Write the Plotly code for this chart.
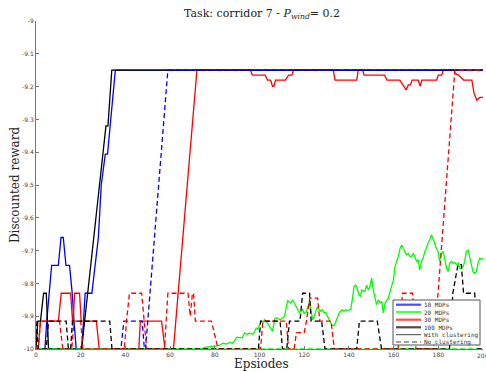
import plotly.graph_objects as go

# ---------------- data (episode, discounted reward) ----------------
b_sol_x = [0, 4, 4.8, 7, 10, 11.2, 12.2, 13.4, 15, 16.2, 17, 18, 20.5, 22, 25, 27.9, 29.2, 31, 32, 35.5, 200]
b_sol_y = [-10, -10, -9.915, -9.745, -9.745, -9.66, -9.66, -9.745, -9.745, -9.83, -9.915, -10, -10, -9.83, -9.83,
           -9.66, -9.5, -9.406, -9.406, -9.15, -9.15]

b_dash_x = [0, 38, 39.3, 47.5, 48.5, 49, 59, 200]
b_dash_y = [-10, -10, -9.915, -9.915, -10, -10, -9.15, -9.15]

g_sol_x = [0, 74, 76, 81.6, 83.7, 85.3, 86.6, 88, 89.9, 91.4, 92.3, 93.3, 94.5, 95.5, 97, 97.8, 98.5, 99.2, 100.7,
           101.5, 102.2, 103, 105.2, 105.9, 106.7, 107.5, 109, 109.7, 111.2, 111.9, 112.6, 113.4, 114.1, 114.8, 115.6,
           116.3, 117.1, 117.8, 118.6, 119.3, 120, 120.8, 121.5, 122.3, 123, 123.8, 124.5, 125.2, 125.9, 126.7, 127.4,
           128.1, 128.9, 129.6, 130.4, 131.1, 131.8, 132.6, 133.3, 134, 134.8, 135.5, 136.3, 137, 137.8, 138.5, 139.3,
           140, 140.8, 141.5, 142.3, 143, 143.7, 144.5, 145.2, 145.7, 147.2, 147.9, 148.7, 149.4, 150.2, 150.9, 151.7,
           152.4, 153.2, 153.9, 154.7, 155.4, 156.2, 156.9, 157.6, 158.4, 159.1, 159.9, 160.6, 161.3, 162.1, 162.9,
           163.6, 164.3, 165.1, 165.8, 166.5, 167.3, 168, 168.8, 169.5, 170.3, 171, 171.7, 172.5, 173.2, 174, 174.7,
           175.4, 176.2, 176.9, 177.6, 178.4, 179.1, 179.9, 180.6, 181.4, 182.2, 182.9, 183.7, 184.4, 185.1, 185.9,
           186.6, 187.4, 188.1, 188.9, 189.6, 190.4, 191.1, 191.8, 192.5, 193.3, 194, 194.8, 195.5, 196.3, 197, 197.8,
           198.5, 199.2, 200]
g_sol_y = [-10, -10, -9.994, -9.99, -9.982, -9.985, -9.98, -9.983, -9.964, -9.964, -9.966, -9.951, -9.955, -9.951,
           -9.955, -9.948, -9.936, -9.94, -9.915, -9.92, -9.91, -9.915, -9.941, -9.946, -9.909, -9.905, -9.91, -9.909,
           -9.9, -9.88, -9.852, -9.858, -9.86, -9.85, -9.86, -9.87, -9.878, -9.889, -9.886, -9.88, -9.892, -9.888,
           -9.875, -9.855, -9.88, -9.911, -9.9, -9.885, -9.872, -9.88, -9.885, -9.88, -9.89, -9.888, -9.9, -9.911,
           -9.92, -9.928, -9.929, -9.92, -9.905, -9.892, -9.885, -9.88, -9.885, -9.88, -9.882, -9.88, -9.88, -9.85,
           -9.809, -9.805, -9.815, -9.835, -9.84, -9.82, -9.825, -9.805, -9.82, -9.81, -9.784, -9.82, -9.85, -9.865,
           -9.85, -9.86, -9.855, -9.89, -9.86, -9.85, -9.845, -9.825, -9.81, -9.79, -9.749, -9.735, -9.718, -9.693,
           -9.683, -9.693, -9.703, -9.713, -9.708, -9.718, -9.718, -9.708, -9.718, -9.733, -9.728, -9.759, -9.733,
           -9.723, -9.703, -9.693, -9.677, -9.667, -9.652, -9.662, -9.677, -9.693, -9.703, -9.733, -9.708, -9.703,
           -9.728, -9.754, -9.764, -9.738, -9.733, -9.738, -9.736, -9.743, -9.738, -9.754, -9.754, -9.748, -9.733,
           -9.703, -9.698, -9.718, -9.743, -9.764, -9.769, -9.764, -9.738, -9.723, -9.726, -9.723]

g_dash_x = [0, 200]
g_dash_y = [-10, -10]

r_sol_x = [0, 1, 2, 10, 11.3, 15.5, 16.5, 17.3, 19.5, 20.2, 27, 28.3, 46, 46.7, 56.2, 57.7, 61.5, 72, 96, 96.8,
           102.5, 103.6, 105, 105.8, 106.4, 107.2, 111.6, 113, 114.5, 115.2, 133, 133.8, 143.5, 144.2, 146.2, 146.8,
           156, 157, 162.8, 164.4, 165.6, 166.6, 167.5, 168.3, 171, 171.9, 172.6, 179.3, 180, 181.5, 182.2, 187,
           187.6, 189, 191.3, 195, 196, 197.2, 198.6, 200]
r_sol_y = [-10, -10, -9.915, -9.915, -9.83, -9.83, -9.93, -9.83, -9.83, -9.915, -9.915, -10, -10, -9.915, -9.915,
           -10, -10, -9.15, -9.15, -9.165, -9.165, -9.18, -9.18, -9.199, -9.199, -9.18, -9.18, -9.165, -9.165, -9.15,
           -9.15, -9.18, -9.18, -9.15, -9.15, -9.165, -9.165, -9.18, -9.18, -9.195, -9.21, -9.195, -9.195, -9.18,
           -9.18, -9.199, -9.18, -9.18, -9.165, -9.165, -9.15, -9.15, -9.16, -9.165, -9.18, -9.18, -9.22, -9.241,
           -9.233, -9.233]

r_dash_x = [0, 1, 2, 10.5, 12, 16, 17, 20, 21, 39.5, 40.5, 41.8, 47.3, 48.5, 49.5, 57.5, 59, 68, 69, 70, 70.5,
            71.3, 78.5, 81.5, 100.5, 101.5, 112, 113, 115.5, 116.5, 120, 121, 122.5, 126, 127, 132, 133.5, 162,
            164, 168.5, 170, 178, 187.4, 200]
r_dash_y = [-10, -10, -9.915, -9.915, -10, -10, -9.915, -9.915, -10, -10, -9.915, -9.83, -9.83, -9.915, -10, -10,
            -9.83, -9.83, -9.9, -9.83, -9.83, -9.915, -9.915, -10, -10, -9.915, -9.915, -10, -10, -9.95, -9.95,
            -9.915, -9.845, -9.845, -9.915, -9.915, -10, -10, -9.83, -9.83, -10, -10, -9.15, -9.15]

k_sol_x = [0, 0.8, 2, 3.4, 4.6, 5.6, 20.4, 28.6, 31.3, 32.2, 33.9, 200]
k_sol_y = [-10, -9.915, -9.915, -9.83, -9.83, -10, -10, -9.5, -9.32, -9.32, -9.15, -9.15]

k_dash_x = [0, 1, 4.6, 5.6, 13.5, 14.5, 15.5, 16.3, 33, 34, 99.5, 100.5, 109.2, 110.3, 112.2, 113.4, 118.1, 119.3,
            122.4, 123.1, 127.8, 129.3, 143.5, 144.7, 152.7, 154.6, 185, 186.5, 188.8, 190.3, 191.3, 196.3, 197.5, 200]
k_dash_y = [-9.915, -10, -10, -9.915, -9.915, -10, -10, -9.915, -9.915, -10, -10, -9.915, -9.915, -10, -10, -9.915,
            -9.915, -9.83, -9.83, -9.915, -9.915, -10, -10, -9.915, -9.915, -10, -10, -9.83, -9.743, -9.743, -9.83,
            -9.83, -10, -10]

series_names = ["10 MDPs", "20 MDPs", "30 MDPs", "100 MDPs"]
series_colors = ["#0000ff", "#00ff00", "#ff0000", "#000000"]
style_names = ["With clustering", "No clustering"]
x_ticks = [0, 20, 40, 60, 80, 100, 120, 140, 160, 180, 200]
y_ticks = [-9, -9.1, -9.2, -9.3, -9.4, -9.5, -9.6, -9.7, -9.8, -9.9, -10]
y_tick_labels = ["-9", "-9.1", "-9.2", "-9.3", "-9.4", "-9.5", "-9.6", "-9.7", "-9.8", "-9.9", "-10"]

solid = [(b_sol_x, b_sol_y), (g_sol_x, g_sol_y), (r_sol_x, r_sol_y), (k_sol_x, k_sol_y)]
dashed = [(b_dash_x, b_dash_y), (g_dash_x, g_dash_y), (r_dash_x, r_dash_y), (k_dash_x, k_dash_y)]

# ---------------- figure ----------------
W, H = 486, 372
L, R, T, B = 36, 3, 21, 23
fig = go.Figure()

for (xs, ys), c, n in zip(solid, series_colors, series_names):
    fig.add_trace(go.Scatter(x=xs, y=ys, mode="lines", name=n + " " + style_names[0],
                             line=dict(color=c, width=1.3), showlegend=False))
for (xs, ys), c, n in zip(dashed, series_colors, series_names):
    fig.add_trace(go.Scatter(x=xs, y=ys, mode="lines", name=n + " " + style_names[1],
                             line=dict(color=c, width=1.3, dash="5px,3px"), showlegend=False))

# pixel -> paper helpers (for the hand-drawn legend)
def xp(px):
    return (px - L) / (W - L - R)

def yp(py):
    return (H - B - py) / (H - T - B)

shapes = []
annotations = []
# legend box
shapes.append(dict(type="rect", xref="paper", yref="paper", x0=xp(393), x1=xp(480), y0=yp(345), y1=yp(300),
                   line=dict(color="#555555", width=1), fillcolor="white", layer="above"))
rows_py = [304.7, 312, 319.7, 327.3, 334.7, 342]
legend_labels = series_names + style_names
for i, (py, lab) in enumerate(zip(rows_py, legend_labels)):
    if i < 4:
        ln = dict(color=series_colors[i], width=2.2)
        op = 0.7
    elif i == 4:
        ln = dict(color="#444444", width=1)
        op = 1
    else:
        ln = dict(color="#444444", width=1, dash="5px,3px")
        op = 1
    shapes.append(dict(type="line", xref="paper", yref="paper", x0=xp(396), x1=xp(421), y0=yp(py), y1=yp(py),
                       line=ln, opacity=op, layer="above"))
    annotations.append(dict(xref="paper", yref="paper", x=xp(422), y=yp(py), text=lab, showarrow=False,
                            xanchor="left", yanchor="middle",
                            font=dict(family="DejaVu Sans Mono", size=6, color="#333333")))

# last x tick label (sits on the right edge, partly cut like the reference)
annotations.append(dict(xref="x", yref="paper", x=x_ticks[-1], y=yp(355), showarrow=False,
                        text=str(x_ticks[-1]), xanchor="center", yanchor="middle",
                        font=dict(family="DejaVu Sans", size=6, color="#444444")))

# title and axis labels
annotations.append(dict(xref="paper", yref="paper", x=xp(262), y=yp(14), showarrow=False,
                        text="Task: corridor 7 - <i>P</i><sub><i>wind</i></sub>= 0.2",
                        xanchor="center", yanchor="middle",
                        font=dict(family="DejaVu Serif", size=11, color="#222222")))
annotations.append(dict(xref="paper", yref="paper", x=xp(261), y=yp(364), showarrow=False,
                        text="Epsiodes", xanchor="center", yanchor="middle",
                        font=dict(family="DejaVu Serif", size=12, color="#222222")))
annotations.append(dict(xref="paper", yref="paper", x=xp(15), y=yp(185), showarrow=False,
                        text="Discounted reward", textangle=-90, xanchor="center", yanchor="middle",
                        font=dict(family="DejaVu Serif", size=12, color="#222222")))

fig.update_layout(
    width=W, height=H,
    margin=dict(l=L, r=R, t=T, b=B, pad=0),
    paper_bgcolor="white", plot_bgcolor="white",
    showlegend=False,
    shapes=shapes, annotations=annotations,
    xaxis=dict(range=[0, 200], tickvals=x_ticks[:-1], ticktext=[str(v) for v in x_ticks[:-1]],
               showgrid=False, zeroline=False, showline=True, linecolor="#777777", linewidth=1,
               ticks="inside", ticklen=3, tickcolor="#777777",
               tickfont=dict(family="DejaVu Sans", size=6, color="#444444")),
    yaxis=dict(range=[-10, -9], tickvals=y_ticks, ticktext=y_tick_labels,
               showgrid=False, zeroline=False, showline=True, linecolor="#777777", linewidth=1,
               ticks="inside", ticklen=3, tickcolor="#777777",
               tickfont=dict(family="DejaVu Sans", size=6, color="#444444")),
)

fig.write_html("out.html", config={"displayModeBar": False},
               post_script="document.body.style.margin='0';document.body.style.overflow='hidden';")
